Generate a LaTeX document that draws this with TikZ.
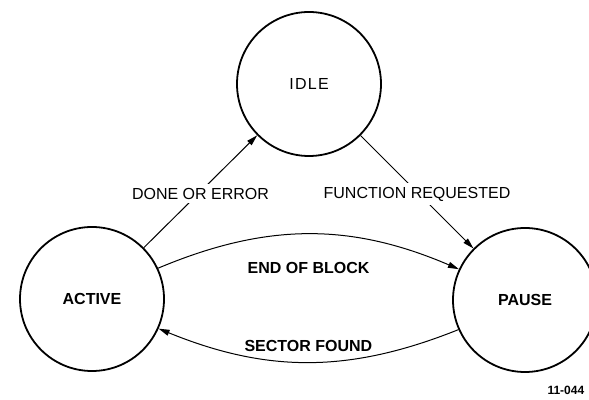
\documentclass[tikz,border=0pt]{standalone}
\usepackage{fontspec}
\setmainfont{Liberation Sans}
\usetikzlibrary{arrows.meta}

\begin{document}
\begin{tikzpicture}[x=1pt,y=1pt,
    state/.style={draw, circle, line width=1.8pt, minimum size=144pt, inner sep=0pt, font=\fontsize{16}{18}\selectfont},
    trans/.style={line width=1pt, -{Triangle[length=11pt,width=6pt]}},
    lbl/.style={fill=white, inner sep=4pt, font=\fontsize{16}{18}\selectfont}]
    \useasboundingbox (0,0) rectangle (589,399);

    % States
    \node[state] (idle) at (309,315) {\addfontfeature{LetterSpace=8}IDLE};
    \node[state] (active) at (92,100) {\textbf{ACTIVE}};
    \node[state] (pause) at (525,99) {\textbf{PAUSE}};

    % Diagonal transitions
    \draw[trans] (active) -- node[lbl, yshift=-2pt] {DONE OR ERROR} (idle);
    \draw[trans] (idle) -- node[lbl, yshift=-2pt] {FUNCTION REQUESTED} (pause);

    % Arcs between active and pause
    \draw[trans] (active.25) to[bend left=23] node[lbl, fill=none, midway, below=24pt] {\textbf{END OF BLOCK}} (pause.155);
    \draw[trans] (pause.204) to[bend left=22] node[lbl, fill=none, midway, above=6pt] {\textbf{SECTOR FOUND}} (active.336);

    % Drawing number
    \node[anchor=west, font=\fontsize{12}{14}\selectfont] (num) at (544,9) {\textbf{11-044}};
\end{tikzpicture}
\end{document}
